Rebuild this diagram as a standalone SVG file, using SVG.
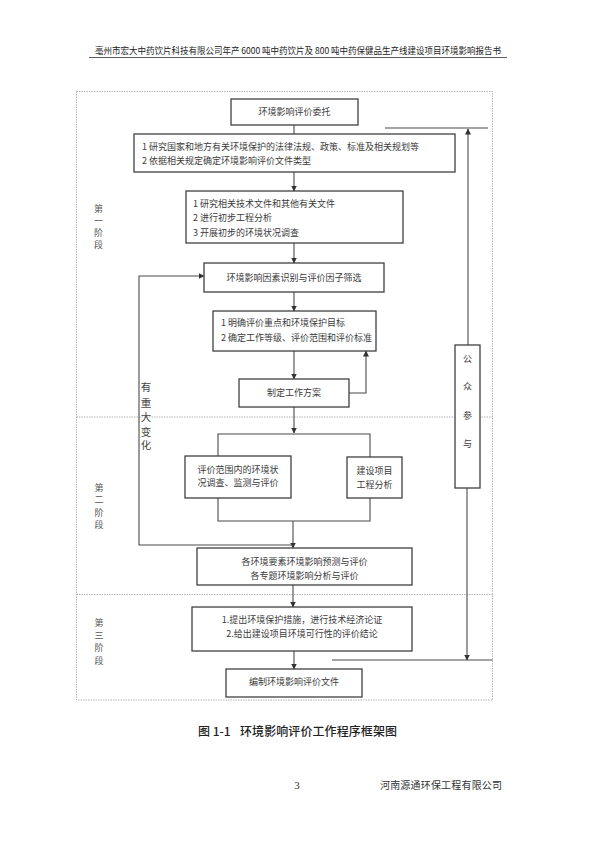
<svg xmlns="http://www.w3.org/2000/svg" width="595" height="842" viewBox="0 0 595 842">
<style>
.t{font-family:"Noto Sans CJK SC","Liberation Serif",sans-serif;font-size:9px;fill:#3a3a3a}
.c{text-anchor:middle}
.box{fill:#fff;stroke:#404040;stroke-width:1.3}
.ln{fill:none;stroke:#4a4a4a;stroke-width:1.1}
.dash{fill:none;stroke:#b5b5b5;stroke-width:1;stroke-dasharray:1.5 1}
.st{font-family:"Noto Sans CJK SC",sans-serif;font-size:9px;fill:#555;text-anchor:middle}
</style>
<defs>
<marker id="ah" markerWidth="6" markerHeight="6" refX="5.5" refY="3" orient="auto" markerUnits="userSpaceOnUse">
<path d="M0,0 L6,3 L0,6 Z" fill="#333"/>
</marker>
</defs>
<rect width="595" height="842" fill="#fff"/>

<g id="header">
<text class="t" x="95" y="53.5" textLength="406" lengthAdjust="spacingAndGlyphs" style="fill:#222">亳州市宏大中药饮片科技有限公司年产 6000 吨中药饮片及 800 吨中药保健品生产线建设项目环境影响报告书</text>
<line x1="89" y1="57.5" x2="507" y2="57.5" stroke="#333" stroke-width="0.8"/>
</g>

<g id="frame">
<rect class="dash" x="76.5" y="91.5" width="416" height="608.5"/>
<line class="dash" x1="76.5" y1="417" x2="492.5" y2="417"/>
<line class="dash" x1="76.5" y1="594.5" x2="492.5" y2="594.5"/>
</g>

<g id="stages">
<text class="st" x="98.5" y="211.5">第</text>
<text class="st" x="98.5" y="223.8">一</text>
<text class="st" x="98.5" y="236.1">阶</text>
<text class="st" x="98.5" y="248.4">段</text>
<text class="st" x="99" y="490.5">第</text>
<text class="st" x="99" y="503">二</text>
<text class="st" x="99" y="515.5">阶</text>
<text class="st" x="99" y="528">段</text>
<text class="st" x="99" y="626">第</text>
<text class="st" x="99" y="638.5">三</text>
<text class="st" x="99" y="651">阶</text>
<text class="st" x="99" y="663.5">段</text>
</g>

<g id="connectors">
<line class="ln" x1="294" y1="125" x2="294" y2="134"/>
<line class="ln" x1="294" y1="172" x2="294" y2="191" marker-end="url(#ah)"/>
<line class="ln" x1="294" y1="243" x2="294" y2="263" marker-end="url(#ah)"/>
<line class="ln" x1="294" y1="292" x2="294" y2="311" marker-end="url(#ah)"/>
<line class="ln" x1="294" y1="351" x2="294" y2="379" marker-end="url(#ah)"/>
<polyline class="ln" points="349,393 366,393 366,351" marker-end="url(#ah)"/>
<line class="ln" x1="294" y1="407" x2="294" y2="433" marker-end="url(#ah)"/>
<polyline class="ln" points="218,456 218,434 370,434 370,457"/>
<polyline class="ln" points="218,498 218,521 370,521 370,498"/>
<line class="ln" x1="293" y1="521" x2="293" y2="548" marker-end="url(#ah)"/>
<polyline class="ln" points="293,545 139,545 139,276 204,276" marker-end="url(#ah)"/>
<line class="ln" x1="293" y1="585" x2="293" y2="607" marker-end="url(#ah)"/>
<line class="ln" x1="294" y1="651" x2="294" y2="669" marker-end="url(#ah)"/>
<line class="ln" x1="468" y1="345" x2="468" y2="129" marker-end="url(#ah)"/>
<line class="ln" x1="385" y1="128" x2="488" y2="128"/>
<line class="ln" x1="467" y1="488" x2="467" y2="660" marker-end="url(#ah)"/>
<line class="ln" x1="332" y1="660" x2="492.5" y2="660"/>
<g class="t" style="font-size:10.5px;fill:#444">
<text x="146" y="391" class="c">有</text>
<text x="146" y="406.5" class="c">重</text>
<text x="146" y="421" class="c">大</text>
<text x="146" y="435.5" class="c">变</text>
<text x="146" y="449" class="c">化</text>
</g>
</g>

<g id="n1">
<rect class="box" x="231" y="99" width="127" height="26"/>
<text class="t c" x="294.5" y="115.2">环境影响评价委托</text>
</g>
<g id="n2">
<rect class="box" x="134" y="134" width="321" height="38"/>
<text class="t" x="142" y="150">1 研究国家和地方有关环境保护的法律法规、政策、标准及相关规划等</text>
<text class="t" x="142" y="164.2">2 依据相关规定确定环境影响评价文件类型</text>
</g>
<g id="n3">
<rect class="box" x="186" y="191" width="217" height="52"/>
<text class="t" x="193" y="207.2">1 研究相关技术文件和其他有关文件</text>
<text class="t" x="193" y="221">2 进行初步工程分析</text>
<text class="t" x="193" y="236">3 开展初步的环境状况调查</text>
</g>
<g id="n4">
<rect class="box" x="204" y="263" width="180" height="29"/>
<text class="t c" x="294" y="280.7">环境影响因素识别与评价因子筛选</text>
</g>
<g id="n5">
<rect class="box" x="213" y="311" width="163" height="40"/>
<text class="t" x="221" y="325.5">1 明确评价重点和环境保护目标</text>
<text class="t" x="221" y="341">2 确定工作等级、评价范围和评价标准</text>
</g>
<g id="n6">
<rect class="box" x="239" y="379" width="110" height="28"/>
<text class="t c" x="294" y="396.2">制定工作方案</text>
</g>
<g id="n7">
<rect class="box" x="185" y="456" width="106" height="42"/>
<text class="t c" x="238" y="472.5">评价范围内的环境状</text>
<text class="t c" x="238" y="486">况调查、监测与评价</text>
</g>
<g id="n8">
<rect class="box" x="347" y="457" width="55" height="41"/>
<text class="t c" x="374.5" y="474">建设项目</text>
<text class="t c" x="374.5" y="487.5">工程分析</text>
</g>
<g id="n9">
<rect class="box" x="197" y="548" width="215" height="37"/>
<text class="t c" x="304.5" y="565">各环境要素环境影响预测与评价</text>
<text class="t c" x="304.5" y="578.5">各专题环境影响分析与评价</text>
</g>
<g id="n10">
<rect class="box" x="192" y="607" width="220" height="44"/>
<text class="t c" x="302" y="622.5">1.提出环境保护措施，进行技术经济论证</text>
<text class="t c" x="302" y="636.5">2.给出建设项目环境可行性的评价结论</text>
</g>
<g id="n11">
<rect class="box" x="226" y="669" width="136" height="28"/>
<text class="t c" x="294" y="685.2">编制环境影响评价文件</text>
</g>
<g id="n12">
<rect class="box" x="455" y="345" width="25" height="143"/>
<text class="t c" x="467.5" y="361.5">公</text>
<text class="t c" x="467.5" y="390">众</text>
<text class="t c" x="467.5" y="418.5">参</text>
<text class="t c" x="467.5" y="446.5">与</text>
</g>

<g id="caption">
<text x="198" y="736" style="font-family:'Noto Sans CJK SC',sans-serif;font-size:12px;fill:#222;font-weight:500">图 1-1</text>
<text x="240" y="736" style="font-family:'Noto Sans CJK SC',sans-serif;font-size:12px;fill:#222;font-weight:500" textLength="157">环境影响评价工作程序框架图</text>
</g>
<g id="footer">
<text x="297" y="789" style="font-family:'Liberation Serif',serif;font-size:11px;fill:#333;text-anchor:middle">3</text>
<text x="380" y="788.5" style="font-family:'Noto Sans CJK SC',sans-serif;font-size:10px;fill:#333" textLength="122">河南源通环保工程有限公司</text>
</g>
</svg>
